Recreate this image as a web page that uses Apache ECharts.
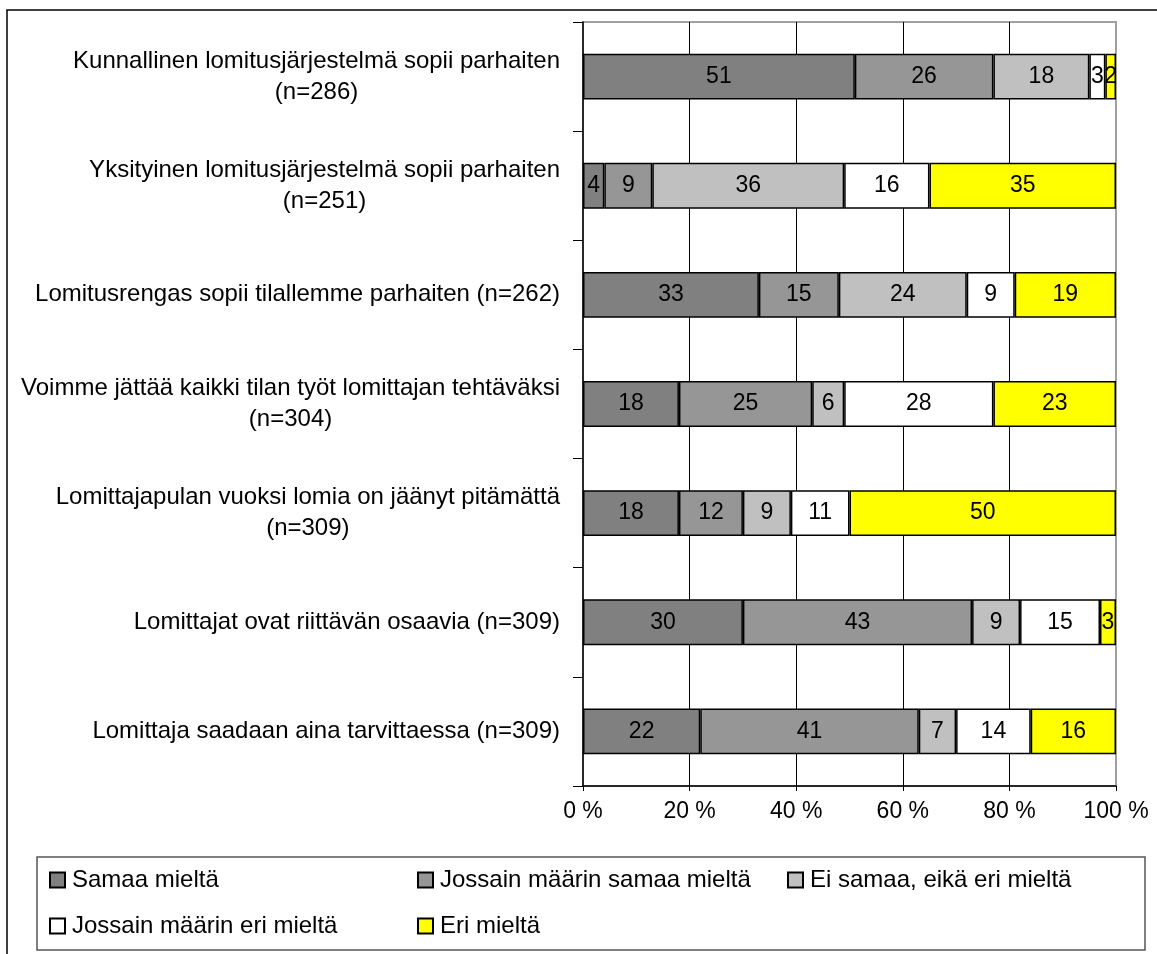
<!DOCTYPE html>
<html>
<head>
<meta charset="utf-8">
<script src="https://cdn.jsdelivr.net/npm/echarts@6/dist/echarts.min.js"></script>
<style>
  html, body { margin: 0; padding: 0; background: #fff; }
  #main { width: 1157px; height: 954px; }
</style>
</head>
<body>
<div id="main"></div>
<script>
// väittämät (ylhäältä alas)
var categories = [
  'Kunnallinen lomitusjärjestelmä sopii parhaiten\n(n=286)',
  'Yksityinen lomitusjärjestelmä sopii parhaiten\n(n=251)',
  'Lomitusrengas sopii tilallemme parhaiten (n=262)',
  'Voimme jättää kaikki tilan työt lomittajan tehtäväksi\n(n=304)',
  'Lomittajapulan vuoksi lomia on jäänyt pitämättä\n(n=309)',
  'Lomittajat ovat riittävän osaavia (n=309)',
  'Lomittaja saadaan aina tarvittaessa (n=309)'
];
var seriesNames = [
  'Samaa mieltä',
  'Jossain määrin samaa mieltä',
  'Ei samaa, eikä eri mieltä',
  'Jossain määrin eri mieltä',
  'Eri mieltä'
];
var samaa      = [51, 4, 33, 18, 18, 30, 22];
var jossainSam = [26, 9, 15, 25, 12, 43, 41];
var eiSamaa    = [18, 36, 24, 6, 9, 9, 7];
var jossainEri = [3, 16, 9, 28, 11, 15, 14];
var eri        = [2, 35, 19, 23, 50, 3, 16];
var xTicks = [0, 20, 40, 60, 80, 100];

var colors = ['#808080', '#969696', '#c0c0c0', '#ffffff', '#ffff00'];
var values = [samaa, jossainSam, eiSamaa, jossainEri, eri];
var FONT = 'Liberation Sans, Arial, sans-serif';

var chart = echarts.init(document.getElementById('main'));

var series = seriesNames.map(function (name, i) {
  return {
    name: name,
    type: 'bar',
    stack: 'all',
    barCategoryGap: '58%',
    data: values[i],
    itemStyle: { color: colors[i], borderColor: '#000', borderWidth: 1.5 },
    label: {
      show: true,
      position: 'inside',
      color: '#000',
      fontFamily: FONT,
      fontSize: 23
    },
    emphasis: { disabled: true }
  };
});

// selitteet omiin paikkoihinsa
var legendPos = [[49, 868], [417, 868], [787, 868], [49, 914], [417, 914]];
var legends = seriesNames.map(function (name, i) {
  return {
    data: [name],
    left: legendPos[i][0],
    top: legendPos[i][1],
    padding: 0,
    icon: 'rect',
    itemWidth: 15,
    itemHeight: 15,
    selectedMode: false,
    textStyle: { fontFamily: FONT, fontSize: 24, color: '#000', padding: [0, 0, 0, 2] }
  };
});

var option = {
  animation: false,
  backgroundColor: '#fff',
  legend: legends,
  grid: {
    left: 583, right: 41, top: 22, bottom: 168,
    show: true, borderColor: '#a0a0a0', borderWidth: 2
  },
  xAxis: {
    type: 'value',
    min: 0, max: 100, interval: 20,
    axisLine: { show: true, lineStyle: { color: '#000', width: 1.5 } },
    axisTick: { show: true, length: 5, lineStyle: { color: '#000' } },
    axisLabel: {
      margin: 14,
      fontFamily: FONT, fontSize: 23, color: '#000',
      formatter: function (v) { return xTicks.indexOf(v) >= 0 ? v + ' %' : ''; }
    },
    splitLine: { show: true, showMinLine: false, showMaxLine: false, lineStyle: { color: '#000', width: 1 } }
  },
  yAxis: {
    type: 'category',
    inverse: true,
    data: categories,
    axisLine: { show: true, lineStyle: { color: '#000', width: 1.5 } },
    axisTick: { show: true, length: 10, lineStyle: { color: '#000' } },
    axisLabel: {
      margin: 23,
      fontFamily: FONT, fontSize: 24, color: '#000',
      formatter: function (v) {
        return v.split('\n').map(function (s) { return '{c|' + s + '}'; }).join('\n');
      },
      rich: {
        c: { align: 'center', fontFamily: FONT, fontSize: 24, color: '#000', lineHeight: 31 }
      }
    }
  },
  graphic: [
    {
      // ulkokehys
      type: 'polyline',
      shape: { points: [[7, 954], [7, 10], [1157, 10]] },
      style: { stroke: '#000', lineWidth: 1.5, fill: null },
      silent: true
    },
    {
      // selitelaatikko
      type: 'rect',
      shape: { x: 37, y: 857, width: 1108, height: 93 },
      style: { stroke: '#555', lineWidth: 1.5, fill: null },
      silent: true
    }
  ],
  series: series
};

chart.setOption(option);
</script>
</body>
</html>
